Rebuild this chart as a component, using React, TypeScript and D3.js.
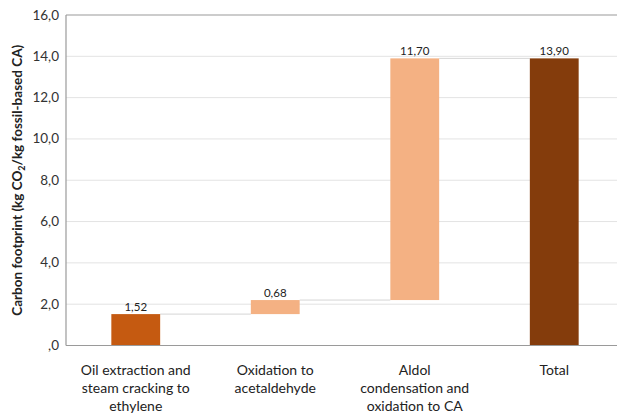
import React from "react";
import * as d3 from "d3";

const categories: string[][] = [
  ["Oil extraction and", "steam cracking to", "ethylene"],
  ["Oxidation to", "acetaldehyde"],
  ["Aldol", "condensation and", "oxidation to CA"],
  ["Total"],
];
const values: number[] = [1.52, 0.68, 11.7, 13.9];
const isTotal: boolean[] = [false, false, false, true];
const labels: string[] = ["1,52", "0,68", "11,70", "13,90"];
const colors: string[] = ["#C55A11", "#F4B183", "#F4B183", "#843C0C"];
const yTicks: number[] = [0, 2, 4, 6, 8, 10, 12, 14, 16];
const yTickLabels: string[] = [",0", "2,0", "4,0", "6,0", "8,0", "10,0", "12,0", "14,0", "16,0"];

export default function App() {
  const W = 617, H = 413;
  const left = 66, right = 624, top = 15, bottom = 345.5;
  const x = d3.scaleBand<number>().domain(d3.range(values.length)).range([left, right]).paddingInner(0.65).paddingOuter(0.325);
  const y = d3.scaleLinear().domain([0, 16]).range([bottom, top]);

  let cum = 0;
  const bars = values.map((v, i) => {
    let y0: number, y1: number;
    if (isTotal[i]) { y0 = 0; y1 = v; cum = v; }
    else { y0 = cum; y1 = cum + v; cum = y1; }
    return { i, y0, y1 };
  });
  const font = "Lato, 'Open Sans', sans-serif";

  return (
    <svg width={W} height={H} style={{ position: "absolute", left: 0, top: 0, background: "#fff" }} fontFamily={font}>
      {yTicks.map((t) => (
        <line key={t} x1={left} x2={W} y1={y(t)} y2={y(t)} stroke={t === 16 ? "#9a9a9a" : "#e3e3e3"} strokeWidth={t === 16 ? 1.2 : 1} />
      ))}
      <line x1={left} x2={left} y1={top} y2={bottom} stroke="#9a9a9a" strokeWidth={1.2} />
      {bars.slice(0, -1).map((b, k) => {
        const nb = bars[k + 1];
        return (
          <line key={"c" + k} x1={(x(b.i) as number) + x.bandwidth()} x2={x(nb.i) as number}
            y1={y(b.y1)} y2={y(b.y1)} stroke="#d6d6d6" strokeWidth={1} />
        );
      })}
      {bars.map((b) => (
        <rect key={b.i} x={x(b.i)} y={y(b.y1)} width={x.bandwidth()} height={y(b.y0) - y(b.y1)} fill={colors[b.i]} />
      ))}
      <line x1={left} x2={W} y1={bottom} y2={bottom} stroke="#9a9a9a" strokeWidth={1.2} />
      {bars.map((b) => (
        <text key={"l" + b.i} x={(x(b.i) as number) + x.bandwidth() / 2} y={y(b.y1) - 3.5} textAnchor="middle" fontSize={11.5} fill="#222">
          {labels[b.i]}
        </text>
      ))}
      {yTicks.map((t, k) => (
        <text key={"t" + t} x={59} y={y(t) + 4.5} textAnchor="end" fontSize={13.5} fill="#333">{yTickLabels[k]}</text>
      ))}
      {categories.map((lines, i) => (
        <text key={"cat" + i} textAnchor="middle" fontSize={14} fill="#222">
          {lines.map((ln, j) => (
            <tspan key={j} x={(x(i) as number) + x.bandwidth() / 2} y={375 + j * 18}>{ln}</tspan>
          ))}
        </text>
      ))}
      <text transform={`translate(22,${(top + bottom) / 2}) rotate(-90)`} textAnchor="middle" fontSize={13.5} fontWeight="bold" fill="#222">
        Carbon footprint (kg CO<tspan fontSize={9} dy={3}>2</tspan><tspan dy={-3}>/kg fossil-based CA)</tspan>
      </text>
    </svg>
  );
}
